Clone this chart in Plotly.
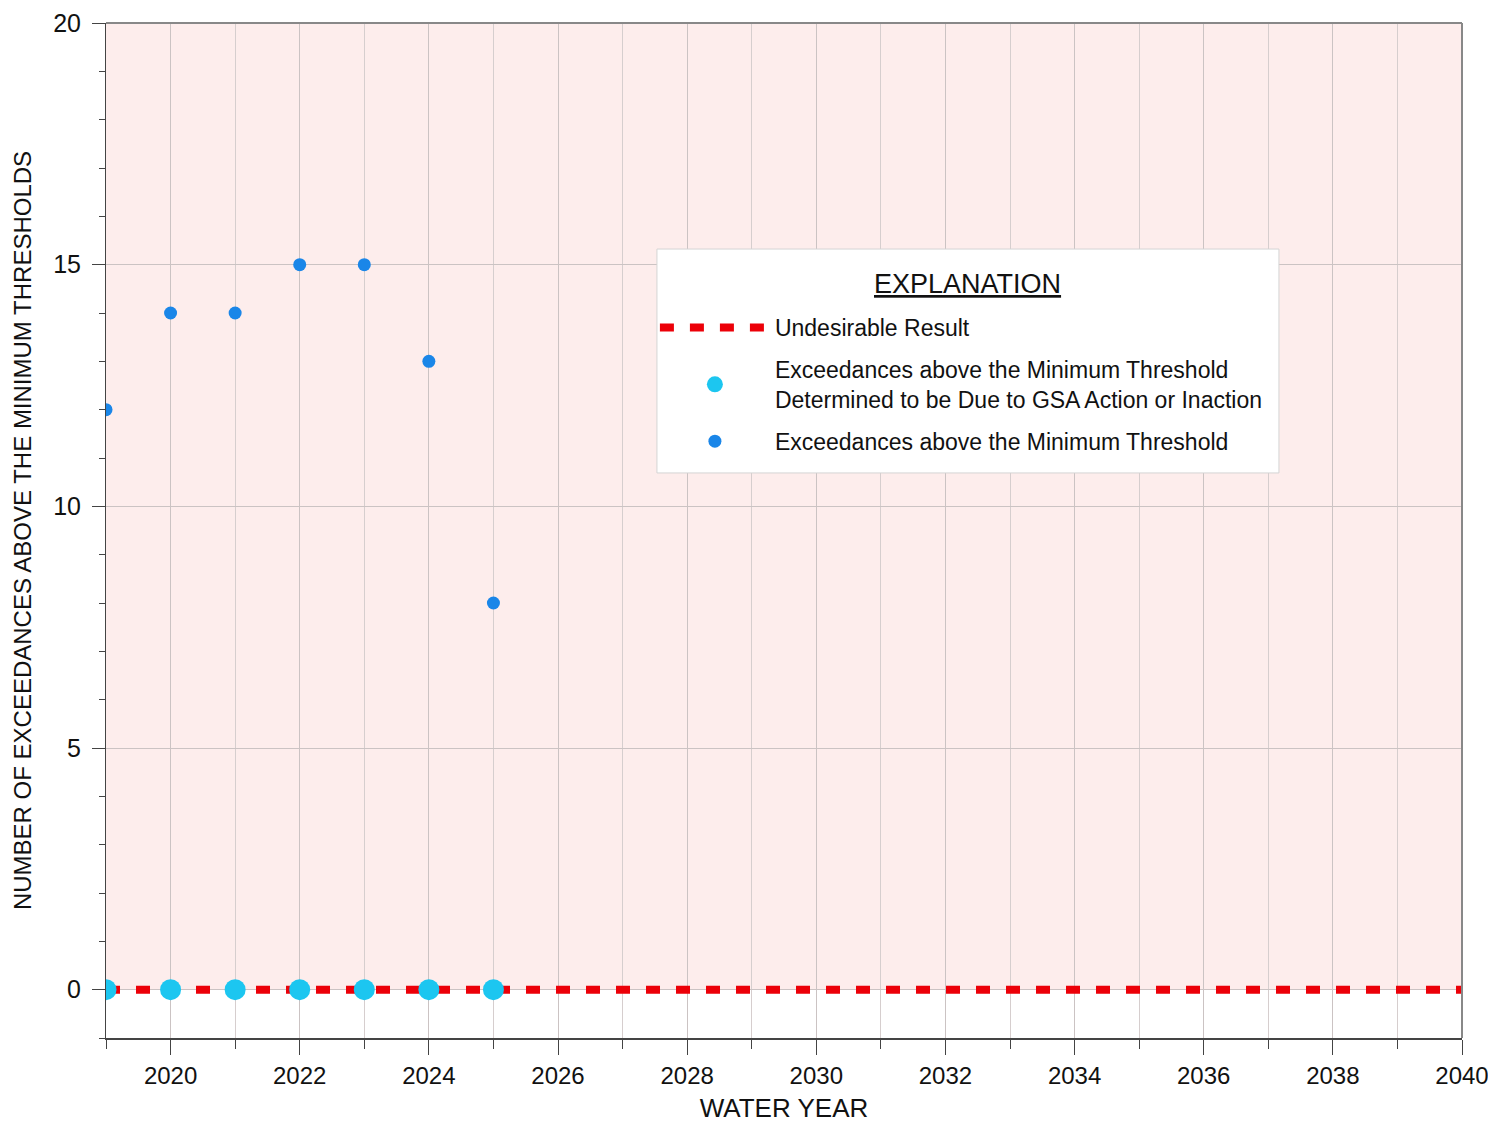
import plotly.graph_objects as go

years = [2019, 2020, 2021, 2022, 2023, 2024, 2025]
exceedances = [12, 14, 14, 15, 15, 13, 8]
gsa_exceedances = [0, 0, 0, 0, 0, 0, 0]
ur_years = [2019, 2040]
ur_values = [0, 0]

FONT = "Liberation Sans Narrow, Arial Narrow, Liberation Sans, Arial"

fig = go.Figure()

fig.add_trace(go.Scatter(
    x=ur_years, y=ur_values, mode="lines", name="Undesirable Result",
    legendgroup="a",
    line=dict(color="#EC0008", width=8, dash="14px,16px"),
))
fig.add_trace(go.Scatter(
    x=years, y=gsa_exceedances, mode="markers",
    name="Exceedances above the Minimum Threshold<br>Determined to be Due to GSA Action or Inaction",
    legendgroup="b",
    marker=dict(color="#1CC6F0", size=21, line=dict(width=0)),
))
fig.add_trace(go.Scatter(
    x=years, y=exceedances, mode="markers",
    name="Exceedances above the Minimum Threshold",
    legendgroup="c",
    marker=dict(color="#1A86E8", size=13, line=dict(width=0)),
))

# pink band
fig.add_shape(type="rect", xref="x", yref="y", x0=2019, x1=2040, y0=0, y1=20,
              fillcolor="#FDEDEC", line=dict(width=0), layer="below")

# legend box and title
fig.add_shape(type="rect", xref="paper", yref="paper", x0=0.4063, x1=0.8650,
              y0=0.5567, y1=0.7773, fillcolor="white",
              line=dict(color="#D4D4D4", width=1), layer="above")
fig.add_annotation(xref="paper", yref="paper", x=0.635, y=0.7429,
                   text="<u>EXPLANATION</u>", showarrow=False,
                   xanchor="center", yanchor="middle",
                   font=dict(family=FONT, size=27, color="#111111"))

fig.update_layout(
    width=1488, height=1115,
    margin=dict(l=98, r=34, t=15, b=85, autoexpand=False),
    paper_bgcolor="white", plot_bgcolor="white",
    font=dict(family=FONT, size=24, color="#111111"),
    showlegend=True,
    legend=dict(
        x=0.4048, y=0.7212, xanchor="left", yanchor="top",
        bgcolor="rgba(0,0,0,0)", borderwidth=0,
        font=dict(family=FONT, size=23, color="#111111"),
        traceorder="grouped", itemwidth=110, tracegroupgap=9,
    ),
    xaxis=dict(
        range=[2019, 2040], tickvals=list(range(2020, 2041, 2)),
        ticks="outside", ticklen=15, tickcolor="#444444", tickwidth=1,
        showline=True, linecolor="#444444", linewidth=2, mirror=False,
        showgrid=True, gridcolor="#CBC3C3", gridwidth=1,
        minor=dict(tickvals=list(range(2019, 2041)), ticks="outside", ticklen=9,
                   tickcolor="#444444", showgrid=True, gridcolor="#D6CECE"),
        tickfont=dict(size=24),
        title=dict(text="WATER YEAR", font=dict(size=26), standoff=16),
        zeroline=False, automargin=False,
    ),
    yaxis=dict(
        range=[-1, 20], tickvals=[0, 5, 10, 15, 20],
        ticks="outside", ticklen=13, tickcolor="#444444",
        showline=True, linecolor="#444444", linewidth=1,
        showgrid=True, gridcolor="#CBC3C3", gridwidth=1,
        minor=dict(tickvals=list(range(-1, 21)), ticks="outside", ticklen=6,
                   tickcolor="#444444", showgrid=False),
        tickfont=dict(size=25), ticklabelstandoff=6,
        title=dict(text="NUMBER OF EXCEEDANCES ABOVE THE MINIMUM THRESHOLDS",
                   font=dict(size=24), standoff=14),
        zeroline=False, automargin=False,
    ),
)

# right and top frame lines
fig.add_shape(type="line", xref="paper", yref="paper", x0=1, x1=1, y0=0, y1=1,
              line=dict(color="#888888", width=2))
fig.add_shape(type="line", xref="paper", yref="paper", x0=0, x1=1, y0=1, y1=1,
              line=dict(color="#888888", width=2))

fig.write_html("out.html")
